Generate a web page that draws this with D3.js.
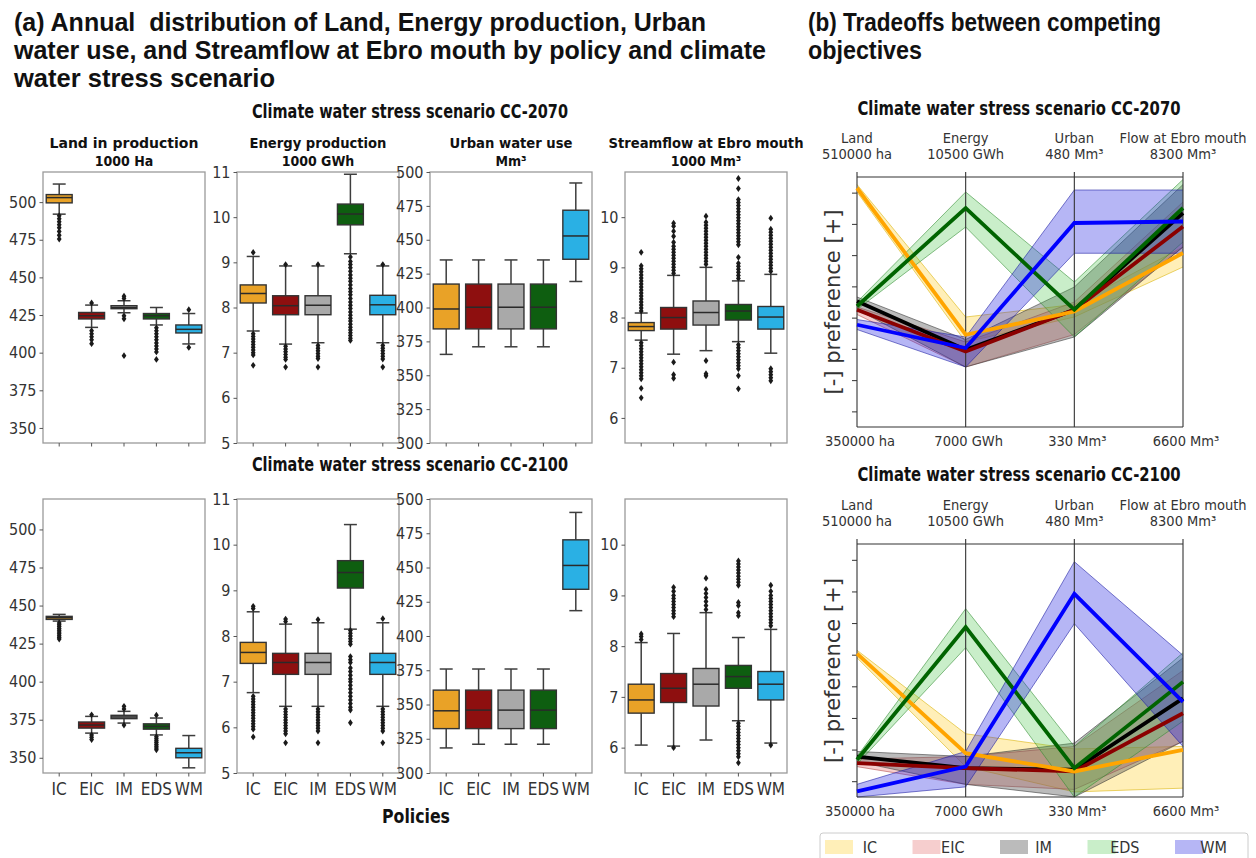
<!DOCTYPE html>
<html>
<head>
<meta charset="utf-8">
<script src="https://cdn.jsdelivr.net/npm/d3@7"></script>
<style>
  body { margin: 0; background: #fff; }
  svg { display: block; }
  text { white-space: pre; }
</style>
</head>
<body>
<svg id="chart" width="1256" height="858"></svg>
<script>
// ---------- policies ----------
const policies = ["IC", "EIC", "IM", "EDS", "WM"];
const boxFill = ["#E9A227", "#8E0F0F", "#A9A9A9", "#0E5E10", "#2AB0E4"];

// ---------- box statistics: [lower whisker, Q1, median, Q3, upper whisker] ----------
// CC-2070
const land2070 = [[492, 499.5, 503, 505, 512], [416.8, 422.4, 424.5, 426.7, 431.6], [426.5, 429.2, 430, 431.2, 434.5], [418.4, 422.4, 424.5, 426, 430], [405.8, 413.1, 415.5, 418.4, 426]];
const land2070Fliers = [[491, 489, 487, 485, 483, 480.5, 478, 475.5], [433, 414.6, 412.5, 410.5, 408.5, 406], [436, 437.5, 424.5, 422.5, 398], [416.5, 414.5, 412.5, 410.5, 408.5, 406.5, 404.5, 402.5, 400.5, 395.5], [428.5, 403.5]];
const energy2070 = [[7.48, 8.1, 8.31, 8.5, 9.13], [7.19, 7.84, 8.04, 8.26, 8.92], [7.22, 7.84, 8.05, 8.26, 8.92], [9.19, 9.83, 10.07, 10.29, 10.95], [7.22, 7.84, 8.06, 8.27, 8.92]];
const energy2070Fliers = [[9.22, 7.42, 7.36, 7.3, 7.24, 7.18, 7.12, 7.06, 7.0, 6.95, 6.72], [8.95, 7.14, 7.08, 7.02, 6.96, 6.9, 6.85, 6.68], [8.95, 7.16, 7.1, 7.04, 6.98, 6.92, 6.87, 6.68], [9.12, 9.02, 8.95, 8.88, 8.8, 8.72, 8.65, 8.58, 8.5, 8.42, 8.35, 8.28, 8.2, 8.12, 8.05, 7.98, 7.9, 7.83, 7.76, 7.7, 7.63, 7.56, 7.5, 7.44, 7.38, 7.32, 7.27], [8.95, 7.16, 7.1, 7.04, 6.98, 6.92, 6.86, 6.68]];
const urban2070 = [[365.4, 384.2, 398.9, 417.3, 435.1], [371, 384.2, 400.2, 417.3, 435.1], [371, 384.2, 400.2, 417.3, 435.1], [371, 384.2, 400.2, 417.3, 435.1], [419.2, 435.6, 452.8, 471.8, 491.9]];
const urban2070Fliers = [[], [], [], [], []];
const flow2070 = [[7.55, 7.74, 7.82, 7.9, 8.09], [7.27, 7.77, 8.0, 8.2, 8.84], [7.34, 7.85, 8.1, 8.33, 9.0], [7.52, 7.95, 8.13, 8.26, 8.73], [7.29, 7.77, 8.01, 8.22, 8.86]];
const flow2070Fliers = [
  [8.13, 8.19, 8.25, 8.31, 8.37, 8.43, 8.49, 8.55, 8.61, 8.67, 8.73, 8.79, 8.85, 8.91, 8.97, 9.03, 9.3, 7.5, 7.44, 7.38, 7.32, 7.26, 7.2, 7.14, 7.08, 7.02, 6.96, 6.9, 6.84, 6.78, 6.59, 6.4],
  [8.88, 8.94, 9.0, 9.06, 9.12, 9.18, 9.24, 9.3, 9.36, 9.42, 9.5, 9.62, 9.72, 9.82, 9.88, 7.11, 6.86, 6.79],
  [9.06, 9.12, 9.18, 9.24, 9.3, 9.36, 9.42, 9.48, 9.54, 9.6, 9.66, 9.72, 9.78, 9.84, 9.9, 10.02, 7.14, 6.88, 6.84],
  [8.78, 8.84, 8.9, 8.96, 9.02, 9.08, 9.2, 9.45, 9.51, 9.57, 9.63, 9.69, 9.75, 9.81, 9.87, 9.93, 9.99, 10.05, 10.11, 10.17, 10.23, 10.29, 10.35, 10.57, 10.77, 7.46, 7.4, 7.34, 7.28, 7.22, 7.16, 7.1, 7.04, 6.98, 6.84, 6.58],
  [8.92, 8.98, 9.04, 9.1, 9.16, 9.22, 9.28, 9.34, 9.4, 9.46, 9.52, 9.58, 9.64, 9.7, 9.76, 9.98, 6.98, 6.92, 6.86, 6.8, 6.74]
];
// CC-2100
const land2100 = [[439.8, 440.9, 442, 442.9, 444.2], [366.2, 369.5, 371.5, 373.5, 377.2], [372.8, 375.7, 376.8, 377.9, 380.5], [365, 368.8, 370.6, 372.3, 376.1], [343.4, 350, 353.3, 356.2, 364.6]];
const land2100Fliers = [[438.6, 437.4, 436.2, 435, 433.8, 432.6, 431.4, 430.2, 429, 428], [378.2, 365, 363.5, 362], [382, 383.8, 371.5], [378, 363.8, 362.5, 361.2, 360, 358.8, 357.6, 356.4, 355.2], []];
const energy2100 = [[6.76, 7.4, 7.64, 7.86, 8.53], [6.46, 7.16, 7.42, 7.62, 8.26], [6.46, 7.16, 7.42, 7.62, 8.29], [8.15, 9.05, 9.39, 9.65, 10.44], [6.46, 7.16, 7.42, 7.62, 8.29]];
const energy2100Fliers = [
  [8.6, 8.65, 6.68, 6.62, 6.56, 6.5, 6.44, 6.38, 6.32, 6.26, 6.2, 6.14, 6.08, 6.02, 5.96, 5.79],
  [8.32, 8.37, 6.4, 6.34, 6.28, 6.22, 6.16, 6.1, 6.04, 5.98, 5.92, 5.86, 5.66],
  [8.36, 6.4, 6.34, 6.28, 6.22, 6.16, 6.1, 6.04, 5.98, 5.92, 5.66],
  [8.12, 8.06, 8.0, 7.94, 7.88, 7.82, 7.55, 7.48, 7.42, 7.3, 7.22, 7.14, 7.06, 7.0, 6.92, 6.84, 6.76, 6.68, 6.6, 6.52, 6.44, 6.38, 6.1],
  [8.38, 6.4, 6.34, 6.28, 6.22, 6.16, 6.1, 6.04, 5.98, 5.92, 5.66]
];
const urban2100 = [[318.3, 332.4, 345.4, 360.5, 375.9], [321, 332.4, 345.9, 360.5, 375.9], [321, 332.4, 345.9, 360.5, 375.9], [321, 332.4, 345.9, 360.5, 375.9], [418.5, 434.1, 451.5, 470.2, 490.2]];
const urban2100Fliers = [[], [], [], [], []];
const flow2100 = [[6.05, 6.68, 6.94, 7.25, 8.07], [6.03, 6.89, 7.17, 7.46, 8.25], [6.15, 6.82, 7.25, 7.56, 8.66], [6.53, 7.17, 7.4, 7.62, 8.17], [6.09, 6.94, 7.25, 7.5, 8.33]];
const flow2100Fliers = [
  [8.13, 8.19, 8.24],
  [8.58, 8.64, 8.7, 8.76, 8.82, 8.88, 8.94, 9.0, 9.08, 9.16, 6.0],
  [8.72, 8.8, 8.88, 8.96, 9.04, 9.12, 9.34],
  [8.6, 8.66, 8.8, 8.86, 9.2, 9.26, 9.32, 9.38, 9.44, 9.5, 9.56, 9.62, 9.68, 6.48, 6.42, 6.36, 6.3, 6.24, 6.18, 6.12, 6.06, 6.0, 5.94, 5.88, 5.82, 5.7],
  [8.4, 8.46, 8.52, 8.58, 8.64, 8.7, 8.76, 8.82, 8.88, 8.94, 9.0, 9.08, 9.2, 6.05]
];

// ---------- axis extents and ticks ----------
const landDomain = [340, 520];
const energyDomain = [5, 11];
const urbanDomain = [300, 500];
const flowDomain = [5.5, 10.9];
const landTicks = [350, 375, 400, 425, 450, 475, 500];
const energyTicks = [5, 6, 7, 8, 9, 10, 11];
const urbanTicks = [300, 325, 350, 375, 400, 425, 450, 475, 500];
const flowTicks = [6, 7, 8, 9, 10];

// ---------- tradeoff (parallel axes) data, normalised preference 0..1 ----------
const pcAxes = ["Land", "Energy", "Urban", "Flow at Ebro mouth"];
const pcTopLabels = ["510000 ha", "10500 GWh", "480 Mm³", "8300 Mm³"];
const pcBottomLabels = ["350000 ha", "7000 GWh", "330 Mm³", "6600 Mm³"];
const pcTicks = [0.0625, 0.1875, 0.3125, 0.4375, 0.5625, 0.6875, 0.8125, 0.9375];

const pc2070Mid = [[0.956, 0.369, 0.462, 0.696], [0.469, 0.302, 0.469, 0.802], [0.503, 0.309, 0.469, 0.856], [0.483, 0.876, 0.469, 0.876], [0.409, 0.316, 0.816, 0.822]];
const pc2070Lo = [[0.94, 0.34, 0.44, 0.64], [0.45, 0.24, 0.37, 0.72], [0.47, 0.24, 0.36, 0.72], [0.47, 0.80, 0.36, 0.74], [0.39, 0.24, 0.695, 0.695]];
const pc2070Hi = [[0.97, 0.44, 0.49, 0.72], [0.48, 0.34, 0.50, 0.90], [0.52, 0.35, 0.56, 0.97], [0.50, 0.94, 0.58, 0.99], [0.43, 0.36, 0.948, 0.948]];

const pc2100Mid = [[0.567, 0.173, 0.101, 0.186], [0.134, 0.114, 0.101, 0.331], [0.160, 0.114, 0.108, 0.39], [0.147, 0.672, 0.114, 0.455], [0.022, 0.12, 0.803, 0.376]];
const pc2100Lo = [[0.55, 0.12, 0.02, 0.035], [0.12, 0.05, 0.03, 0.22], [0.14, 0.05, 0.0, 0.22], [0.13, 0.59, 0.0, 0.30], [0.0, 0.04, 0.685, 0.20]];
const pc2100Hi = [[0.58, 0.25, 0.19, 0.20], [0.15, 0.16, 0.20, 0.50], [0.18, 0.16, 0.213, 0.55], [0.16, 0.744, 0.20, 0.57], [0.05, 0.18, 0.93, 0.56]];

// line and band styling per policy
const pcLine = ["#FFA500", "#8B0000", "#000000", "#006400", "#0000FF"];
const pcBand = ["#FFD84D", "#E57373", "#555555", "#4CC84C", "#2020E0"];
const pcBandOpacity = [0.4, 0.35, 0.4, 0.3, 0.33];
const pcEdge = ["#D8B000", "#B04848", "#333333", "#2E8B2E", "#1A1AA0"];

// ---------- drawing ----------
const svg = d3.select("#chart");
const COND = "'DejaVu Sans Condensed','DejaVu Sans',sans-serif";
const NARROW = "'Liberation Sans Narrow','Liberation Sans',Arial,sans-serif";

function fitText(x, y, str, width, opts) {
  const t = svg.append("text")
    .attr("x", x).attr("y", y)
    .attr("font-family", opts.family)
    .attr("font-size", opts.size)
    .attr("font-weight", opts.weight || "normal")
    .attr("fill", opts.fill || "#111")
    .attr("text-anchor", opts.anchor || "start")
    .text(str);
  if (width) t.attr("textLength", width).attr("lengthAdjust", "spacingAndGlyphs");
  return t;
}

// headings
fitText(14, 31, "(a) Annual  distribution of Land, Energy production, Urban", 692, {family: NARROW, size: 25, weight: "bold"});
fitText(14, 59, "water use, and Streamflow at Ebro mouth by policy and climate", 752, {family: NARROW, size: 25, weight: "bold"});
fitText(14, 87, "water stress scenario", 261, {family: NARROW, size: 25, weight: "bold"});
fitText(808, 31, "(b) Tradeoffs between competing", 353, {family: NARROW, size: 25, weight: "bold"});
fitText(808, 59, "objectives", 114, {family: NARROW, size: 25, weight: "bold"});

fitText(410, 118, "Climate water stress scenario CC-2070", 316, {family: COND, size: 20, weight: "bold", anchor: "middle"});
fitText(410, 471, "Climate water stress scenario CC-2100", 316, {family: COND, size: 20, weight: "bold", anchor: "middle"});

// ---------- box plot panels ----------
const colX = [43, 237, 430, 625];
const colW = 162;
const rowTop = [172, 499];
const rowBottom = [443, 773];

const panelTitles = [["Land in production", "1000 Ha"], ["Energy production", "1000 GWh"], ["Urban water use", "Mm³"], ["Streamflow at Ebro mouth", "1000 Mm³"]];
const panelTitleWidth = [149, 137, 123, 195];

const boxPanels = [
  {col: 0, row: 0, stats: land2070, fliers: land2070Fliers, domain: landDomain, ticks: landTicks},
  {col: 1, row: 0, stats: energy2070, fliers: energy2070Fliers, domain: energyDomain, ticks: energyTicks},
  {col: 2, row: 0, stats: urban2070, fliers: urban2070Fliers, domain: urbanDomain, ticks: urbanTicks},
  {col: 3, row: 0, stats: flow2070, fliers: flow2070Fliers, domain: flowDomain, ticks: flowTicks},
  {col: 0, row: 1, stats: land2100, fliers: land2100Fliers, domain: landDomain, ticks: landTicks},
  {col: 1, row: 1, stats: energy2100, fliers: energy2100Fliers, domain: energyDomain, ticks: energyTicks},
  {col: 2, row: 1, stats: urban2100, fliers: urban2100Fliers, domain: urbanDomain, ticks: urbanTicks},
  {col: 3, row: 1, stats: flow2100, fliers: flow2100Fliers, domain: flowDomain, ticks: flowTicks}
];

const diamond = "M0,-3.4L2.4,0L0,3.4L-2.4,0Z";

boxPanels.forEach(p => {
  const x0 = colX[p.col], x1 = x0 + colW;
  const y0 = rowTop[p.row], y1 = rowBottom[p.row];
  const x = d3.scaleBand().domain(policies).range([x0, x1]);
  const y = d3.scaleLinear().domain(p.domain).range([y1, y0]);
  const g = svg.append("g");

  g.append("rect").attr("x", x0).attr("y", y0).attr("width", colW).attr("height", y1 - y0)
    .attr("fill", "none").attr("stroke", "#9a9a9a").attr("stroke-width", 1.3);

  const ya = g.append("g").attr("transform", `translate(${x0},0)`)
    .call(d3.axisLeft(y).tickValues(p.ticks).tickSize(3.5).tickPadding(3).tickFormat(d3.format("d")));
  ya.select(".domain").remove();
  ya.selectAll("line").attr("stroke", "#555");
  ya.selectAll("text").attr("font-family", COND).attr("font-size", 16).attr("fill", "#333");

  const xa = g.append("g").attr("transform", `translate(0,${y1})`)
    .call(d3.axisBottom(x).tickSize(3.5).tickPadding(4).tickFormat(p.row === 1 ? (d => d) : () => ""));
  xa.select(".domain").remove();
  xa.selectAll("line").attr("stroke", "#555");
  xa.selectAll("text").attr("font-family", COND).attr("font-size", 17).attr("fill", "#333").attr("dy", "0.85em");

  const bw = x.bandwidth() * 0.8;
  policies.forEach((pol, i) => {
    const [wlo, q1, med, q3, whi] = p.stats[i];
    const cx = x(pol) + x.bandwidth() / 2;
    const wc = "#3d3d3d";
    g.append("line").attr("x1", cx).attr("x2", cx).attr("y1", y(whi)).attr("y2", y(q3)).attr("stroke", wc).attr("stroke-width", 1.5);
    g.append("line").attr("x1", cx).attr("x2", cx).attr("y1", y(q1)).attr("y2", y(wlo)).attr("stroke", wc).attr("stroke-width", 1.5);
    [whi, wlo].forEach(v => g.append("line").attr("x1", cx - bw / 4).attr("x2", cx + bw / 4)
      .attr("y1", y(v)).attr("y2", y(v)).attr("stroke", wc).attr("stroke-width", 1.5));
    g.append("rect").attr("x", cx - bw / 2).attr("y", y(q3)).attr("width", bw).attr("height", Math.max(1, y(q1) - y(q3)))
      .attr("fill", boxFill[i]).attr("stroke", "#333").attr("stroke-width", 1.4);
    g.append("line").attr("x1", cx - bw / 2).attr("x2", cx + bw / 2).attr("y1", y(med)).attr("y2", y(med))
      .attr("stroke", "#2a2a2a").attr("stroke-width", 1.5);
    g.selectAll(null).data(p.fliers[i]).enter().append("path")
      .attr("d", diamond).attr("transform", v => `translate(${cx},${y(v)})`).attr("fill", "#1a1a1a");
  });

  if (p.row === 0) {
    const cxp = x0 + colW / 2;
    fitText(cxp, 148, panelTitles[p.col][0], panelTitleWidth[p.col], {family: COND, size: 14, weight: "bold", anchor: "middle"});
    fitText(cxp, 166, panelTitles[p.col][1], null, {family: COND, size: 14, weight: "bold", anchor: "middle"});
  }
});

fitText(416, 823, "Policies", 68, {family: COND, size: 20, weight: "bold", anchor: "middle"});

// ---------- tradeoff panels ----------
function tradeoffPanel(top, bottom, titleY, title, mids, los, his) {
  const x = d3.scalePoint().domain(pcAxes).range([857, 1183]);
  const y = d3.scaleLinear().domain([0, 1]).range([bottom, top]);
  const g = svg.append("g");

  fitText(1019, titleY, title, 323, {family: COND, size: 20, weight: "bold", anchor: "middle"});

  // bands
  [0, 1, 2, 3, 4].forEach(i => {
    const pts = pcAxes.map((a, k) => ({a, lo: los[i][k], hi: his[i][k]}));
    g.append("path").datum(pts)
      .attr("d", d3.area().x(d => x(d.a)).y0(d => y(d.lo)).y1(d => y(d.hi)))
      .attr("fill", pcBand[i]).attr("fill-opacity", pcBandOpacity[i]);
    ["lo", "hi"].forEach(key => g.append("path").datum(pts)
      .attr("d", d3.line().x(d => x(d.a)).y(d => y(d[key])))
      .attr("fill", "none").attr("stroke", pcEdge[i]).attr("stroke-width", 0.8).attr("stroke-opacity", 0.7));
  });

  // frame and axes
  g.append("line").attr("x1", x(pcAxes[0])).attr("x2", x(pcAxes[3])).attr("y1", top).attr("y2", top).attr("stroke", "#333").attr("stroke-width", 1.1);
  g.append("line").attr("x1", x(pcAxes[0])).attr("x2", x(pcAxes[3])).attr("y1", bottom).attr("y2", bottom).attr("stroke", "#333").attr("stroke-width", 1.1);
  pcAxes.forEach(a => g.append("line").attr("x1", x(a)).attr("x2", x(a)).attr("y1", top - 5).attr("y2", bottom)
    .attr("stroke", "#333").attr("stroke-width", 1.1));
  const la = g.append("g").attr("transform", `translate(${x(pcAxes[0])},0)`)
    .call(d3.axisLeft(y).tickValues(pcTicks).tickSize(5).tickFormat(""));
  la.select(".domain").remove();
  la.selectAll("line").attr("stroke", "#333");

  // median lines
  [2, 1, 0, 3, 4].forEach(i => {
    g.append("path").datum(mids[i])
      .attr("d", d3.line().x((d, k) => x(pcAxes[k])).y(d => y(d)))
      .attr("fill", "none").attr("stroke", pcLine[i]).attr("stroke-width", 3.8).attr("stroke-linejoin", "miter");
  });

  // axis names and extents
  pcAxes.forEach((a, k) => {
    fitText(x(a), top - 34, a, null, {family: COND, size: 14.5, fill: "#333", anchor: "middle"});
    fitText(x(a), top - 18, pcTopLabels[k], null, {family: COND, size: 14.5, fill: "#333", anchor: "middle"});
    fitText(x(a) + 3, bottom + 19, pcBottomLabels[k], null, {family: COND, size: 14.5, fill: "#333", anchor: "middle"});
  });

  const cy = (top + bottom) / 2;
  svg.append("text").attr("transform", `translate(840,${cy}) rotate(-90)`)
    .attr("text-anchor", "middle").attr("font-family", "'DejaVu Sans',sans-serif").attr("font-size", 21)
    .attr("fill", "#333").text("[-] preference [+]");
}

tradeoffPanel(177, 427, 115, "Climate water stress scenario CC-2070", pc2070Mid, pc2070Lo, pc2070Hi);
tradeoffPanel(544, 797, 481, "Climate water stress scenario CC-2100", pc2100Mid, pc2100Lo, pc2100Hi);

// legend
const lg = svg.append("g");
lg.append("rect").attr("x", 820).attr("y", 833).attr("width", 428).attr("height", 34).attr("rx", 3)
  .attr("fill", "#fff").attr("stroke", "#cccccc");
const legX = d3.scalePoint().domain(policies).range([825, 1175]);
policies.forEach((pol, i) => {
  lg.append("rect").attr("x", legX(pol)).attr("y", 840).attr("width", 28).attr("height", 14)
    .attr("fill", pcBand[i]).attr("fill-opacity", pcBandOpacity[i]);
  lg.append("text").attr("x", legX(pol) + 52).attr("y", 853).attr("text-anchor", "end")
    .attr("font-family", COND).attr("font-size", 16).attr("fill", "#333").text(pol);
});
</script>
</body>
</html>
